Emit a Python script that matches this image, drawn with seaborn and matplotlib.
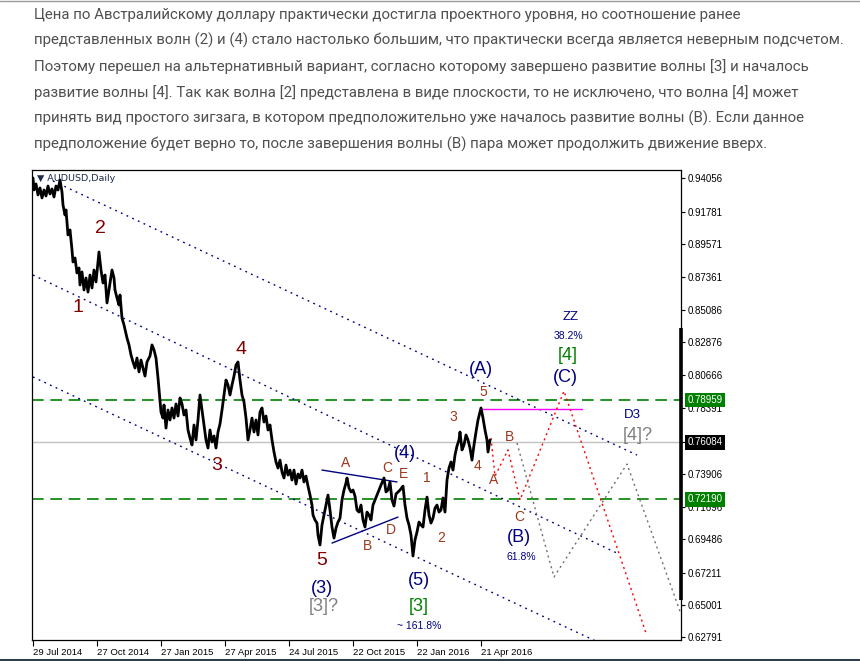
import matplotlib
matplotlib.use("Agg")
import matplotlib.pyplot as plt
import matplotlib.transforms as mtransforms
from matplotlib.lines import Line2D
import seaborn as sns

sns.set_theme(style="white")
plt.rcParams["font.family"] = ["Liberation Sans", "DejaVu Sans"]

# ---- data ----------------------------------------------------------------
# bar index (daily bars from 29 Jul 2014) and price of the traced series
bar_idx = [
    0, 1, 3, 5, 7, 9, 11, 13, 15, 17, 19, 21, 23, 25, 27, 29, 30, 32, 33, 35,
    37, 39, 40, 42, 44, 46, 47, 49, 51, 53, 55, 57, 59, 61, 63, 65, 66, 68, 70, 72,
    74, 76, 79, 81, 82, 84, 86, 87, 89, 91, 94, 96, 98, 100, 102, 104, 106, 108, 110, 112,
    114, 117, 119, 121, 123, 125, 127, 128, 130, 131, 133, 135, 137, 139, 141, 143, 145, 147, 149, 151,
    153, 155, 157, 159, 161, 163, 165, 167, 169, 171, 173, 175, 177, 179, 181, 183, 185, 187, 189, 191,
    193, 195, 197, 199, 201, 203, 205, 207, 209, 211, 213, 215, 217, 219, 221, 223, 225, 227, 229, 231,
    233, 235, 237, 239, 241, 243, 245, 247, 249, 251, 253, 255, 257, 259, 261, 263, 265, 267, 269, 271,
    273, 275, 277, 279, 280, 282, 284, 285, 287, 289, 291, 293, 295, 297, 299, 301, 303, 305, 307, 309,
    311, 313, 314, 316, 318, 320, 322, 324, 326, 328, 330, 332, 334, 336, 338, 340, 342, 344, 346, 348,
    351, 353, 355, 357, 359, 361, 363, 365, 367, 370, 372, 374, 376, 378, 379, 380, 382, 384, 386, 388,
    390, 392, 394, 396, 398, 400, 402, 404, 406, 408, 410, 412, 414, 416, 418, 420, 422, 424, 426, 427,
    429, 431, 433, 435, 437, 439, 441, 443, 445, 447, 448, 450, 452, 454, 455, 457,
]
price = [
    0.9408, 0.9326, 0.9367, 0.9292, 0.9340, 0.9272, 0.9326, 0.9285, 0.9353, 0.9299,
    0.9333, 0.9278, 0.9353, 0.9326, 0.9394, 0.9312, 0.9224, 0.9156, 0.9190, 0.9020,
    0.9054, 0.8918, 0.8836, 0.8863, 0.8761, 0.8795, 0.8679, 0.8768, 0.8645, 0.8727,
    0.8631, 0.8747, 0.8659, 0.8781, 0.8700, 0.8836, 0.8904, 0.8781, 0.8693, 0.8747,
    0.8557, 0.8645, 0.8781, 0.8727, 0.8645, 0.8591, 0.8543, 0.8611, 0.8454, 0.8407,
    0.8318, 0.8271, 0.8203, 0.8155, 0.8114, 0.8182, 0.8087, 0.8168, 0.8114, 0.8059,
    0.8155, 0.8196, 0.8271, 0.8237, 0.8182, 0.8046, 0.7896, 0.7814, 0.7773, 0.7862,
    0.7705, 0.7828, 0.7760, 0.7842, 0.7773, 0.7869, 0.7787, 0.7910, 0.7869, 0.7794,
    0.7828, 0.7692, 0.7637, 0.7590, 0.7726, 0.7624, 0.7760, 0.7930, 0.7828, 0.7726,
    0.7624, 0.7569, 0.7692, 0.7610, 0.7651, 0.7569, 0.7678, 0.7733, 0.7828, 0.7930,
    0.8032, 0.7998, 0.7930, 0.7998, 0.8059, 0.8134, 0.8155, 0.8032, 0.7930, 0.7882,
    0.7773, 0.7624, 0.7692, 0.7773, 0.7678, 0.7760, 0.7658, 0.7814, 0.7842, 0.7746,
    0.7787, 0.7692, 0.7726, 0.7624, 0.7542, 0.7474, 0.7433, 0.7487, 0.7406, 0.7365,
    0.7453, 0.7385, 0.7419, 0.7351, 0.7419, 0.7324, 0.7392, 0.7365, 0.7419, 0.7338,
    0.7378, 0.7310, 0.7249, 0.7181, 0.7113, 0.7079, 0.7058, 0.6977, 0.6909, 0.7045,
    0.7113, 0.7181, 0.7249, 0.7147, 0.7031, 0.6956, 0.7024, 0.7065, 0.7092, 0.7215,
    0.7283, 0.7331, 0.7365, 0.7297, 0.7270, 0.7283, 0.7242, 0.7147, 0.7133, 0.7181,
    0.7079, 0.7031, 0.7133, 0.7113, 0.7079, 0.7181, 0.7215, 0.7249, 0.7283, 0.7317,
    0.7365, 0.7270, 0.7283, 0.7338, 0.7215, 0.7174, 0.7256, 0.7270, 0.7283, 0.7310,
    0.7181, 0.7092, 0.7045, 0.6977, 0.6909, 0.6834, 0.6943, 0.6997, 0.7065, 0.7045,
    0.7031, 0.7147, 0.7235, 0.7113, 0.7058, 0.7092, 0.7160, 0.7181, 0.7133, 0.7147,
    0.7229, 0.7133, 0.7351, 0.7433, 0.7474, 0.7419, 0.7521, 0.7583, 0.7624, 0.7678,
    0.7556, 0.7590, 0.7658, 0.7624, 0.7569, 0.7487, 0.7590, 0.7678, 0.7760, 0.7814,
    0.7842, 0.7773, 0.7692, 0.7624, 0.7542, 0.7624,
]

# price scale labels on the right
price_ticks = [0.94056, 0.91781, 0.89571, 0.87361, 0.85086, 0.82876, 0.80666,
               0.78391, 0.76084, 0.73906, 0.71696, 0.69486, 0.67211, 0.65001, 0.62791]
date_ticks = [0, 64, 128, 192, 256, 320, 384, 448]
date_labels = ["29 Jul 2014", "27 Oct 2014", "27 Jan 2015", "27 Apr 2015",
               "24 Jul 2015", "22 Oct 2015", "22 Jan 2016", "21 Apr 2016"]

level_hi = 0.78959
level_lo = 0.72190
last_price = 0.76084

# channel lines (bar, price) pairs
channel_upper = ([20, 604], [0.9387, 0.7521])
channel_mid = ([0, 586], [0.8747, 0.6847])
channel_low = ([0, 567], [0.8053, 0.6241])
triangle_top = ([289, 364], [0.7419, 0.7338])
triangle_bot = ([299, 365], [0.6922, 0.7099])
top_level = ([448, 549], [0.7835, 0.7835])
# projected paths
red_path = ([458, 462, 475, 487, 531, 613], [0.7637, 0.7378, 0.7556, 0.7215, 0.7957, 0.6309])
gray_path = ([484, 521, 594, 648], [0.7603, 0.6691, 0.7460, 0.6439])

NAVY = "#000080"
MAROON = "#800000"
BROWN = "#a0361a"
GREEN = "#008000"
GRAY = "#808080"

# wave labels: text, bar, price, colour, size
wave_labels = [
    ("2", 67, 0.9067, MAROON, 14), ("1", 45, 0.8529, MAROON, 14),
    ("4", 208, 0.8237, MAROON, 14), ("3", 184, 0.7453, MAROON, 14),
    ("5", 289, 0.6806, MAROON, 14), ("(3)", 289, 0.6616, NAVY, 13),
    ("[3]?", 291, 0.6493, GRAY, 13),
    ("A", 313, 0.7467, BROWN, 10), ("B", 335, 0.6902, BROWN, 10),
    ("C", 354, 0.7433, BROWN, 10), ("D", 358, 0.7011, BROWN, 10),
    ("E", 370, 0.7392, BROWN, 10), ("(4)", 372, 0.7535, NAVY, 13),
    ("1", 394, 0.7365, BROWN, 10), ("2", 408, 0.6956, BROWN, 10),
    ("(5)", 386, 0.6670, NAVY, 13), ("[3]", 386, 0.6493, GREEN, 13),
    ("~ 161.8%", 386, 0.6357, NAVY, 7.5),
    ("3", 420, 0.7780, BROWN, 10), ("4", 445, 0.7447, BROWN, 10),
    ("5", 450, 0.7950, BROWN, 10), ("(A)", 448, 0.8107, NAVY, 13),
    ("A", 461, 0.7351, BROWN, 10), ("B", 477, 0.7644, BROWN, 10),
    ("C", 486, 0.7099, BROWN, 10), ("(B)", 486, 0.6963, NAVY, 13),
    ("61.8%", 488, 0.6827, NAVY, 7.5),
    ("ZZ", 538, 0.8461, NAVY, 9.5), ("38.2%", 535, 0.8332, NAVY, 7.5),
    ("[4]", 535, 0.8196, GREEN, 13), ("(C)", 532, 0.8046, NAVY, 13),
    ("D3", 599, 0.7794, NAVY, 9.5), ("[4]?", 605, 0.7651, GRAY, 13),
]

intro_lines = [
    "Цена по Австралийскому доллару практически достигла проектного уровня, но соотношение ранее",
    "представленных волн (2) и (4) стало настолько большим, что практически всегда является неверным подсчетом.",
    "Поэтому перешел на альтернативный вариант, согласно которому завершено развитие волны [3] и началось",
    "развитие волны [4]. Так как волна [2] представлена в виде плоскости, то не исключено, что волна [4] может",
    "принять вид простого зигзага, в котором предположительно уже началось развитие волны (B). Если данное",
    "предположение будет верно то, после завершения волны (B) пара может продолжить движение вверх.",
]

# ---- figure --------------------------------------------------------------
W, H = 860, 661
fig = plt.figure(figsize=(W / 100, H / 100), dpi=100)
fig.patch.set_facecolor("white")

for i, line in enumerate(intro_lines):
    fig.text(34 / W, 1 - (15 + 25.8 * i) / H, line, ha="left", va="center",
             fontsize=10.85, color="#505050", family=["Roboto", "DejaVu Sans"])

# page borders
fig.add_artist(Line2D([0, 1], [1 - 0.5 / H, 1 - 0.5 / H], color="#9a9a9a", lw=1))
fig.add_artist(Line2D([0, 1], [1.5 / H, 1.5 / H], color="#2e3d4c", lw=2.2))

ax = fig.add_axes([32 / W, 21 / H, (681 - 32) / W, (640 - 170) / H])
ax.set_facecolor("white")

# horizontal levels
ax.axhline(last_price, color="#c0c0c0", lw=1, zorder=1)
for lvl in (level_hi, level_lo):
    ax.axhline(lvl, color=GREEN, lw=1.2, dashes=(7, 4), zorder=1)

# channels and figures
dotted = dict(color=NAVY, lw=1, linestyle=(0, (1.3, 3.2)), zorder=2)
for xs, ys in (channel_upper, channel_mid, channel_low):
    ax.plot(xs, ys, **dotted)
for xs, ys in (triangle_top, triangle_bot):
    ax.plot(xs, ys, color=NAVY, lw=1, zorder=2)
ax.plot(*top_level, color="#ff00ff", lw=1, zorder=2)
ax.plot(*red_path, color="#ff0000", lw=1, linestyle=(0, (1.5, 2.5)), zorder=2)
ax.plot(*gray_path, color="#707070", lw=1, linestyle=(0, (1.5, 2.5)), zorder=2)

# price series
sns.lineplot(x=bar_idx, y=price, sort=False, estimator=None, color="black",
             lw=2.0, ax=ax, zorder=3)

for txt, bx, py, col, size in wave_labels:
    ax.text(bx, py, txt, color=col, fontsize=size, ha="center", va="center", zorder=4)

ax.text(0.008, 0.992, "\u25bc AUDUSD,Daily", transform=ax.transAxes, ha="left", va="top",
        fontsize=6.8, color="#1c2b4a", family=["DejaVu Sans"])

# axes
ax.set_xlim(-1, 648)
ax.set_ylim(0.6262, 0.9462)
ax.set_xlabel("")
ax.set_ylabel("")
ax.grid(False)
for sp in ax.spines.values():
    sp.set_color("black")
    sp.set_linewidth(0.9)

ax.yaxis.tick_right()
ax.set_yticks(price_ticks)
ax.set_yticklabels([f"{v:.5f}" for v in price_ticks])
ax.tick_params(axis="y", direction="out", length=3, width=0.8, pad=2,
               labelsize=7, colors="black", right=True, left=False)
ax.set_xticks(date_ticks)
ax.set_xticklabels(date_labels, ha="left")
ax.tick_params(axis="x", direction="out", length=4, width=0.8, pad=1.5,
               labelsize=6.8, colors="black", bottom=True)

# thick marker on the price scale
trans = mtransforms.blended_transform_factory(ax.transAxes, ax.transData)
ax.plot([1.0, 1.0], [0.8386, 0.6534], transform=trans, color="black", lw=2.6,
        clip_on=False, solid_capstyle="butt", zorder=5)

# boxed price labels
for val, box in ((level_hi, GREEN), (level_lo, GREEN), (last_price, "black")):
    ax.annotate(f"{val:.5f}", xy=(1.0, val), xycoords=trans, xytext=(4.5, 0),
                textcoords="offset points", ha="left", va="center", fontsize=7,
                color="white", annotation_clip=False, zorder=6,
                bbox=dict(boxstyle="square,pad=0.25", facecolor=box, edgecolor="none"))

fig.savefig("out.png", dpi=100, facecolor="white")
